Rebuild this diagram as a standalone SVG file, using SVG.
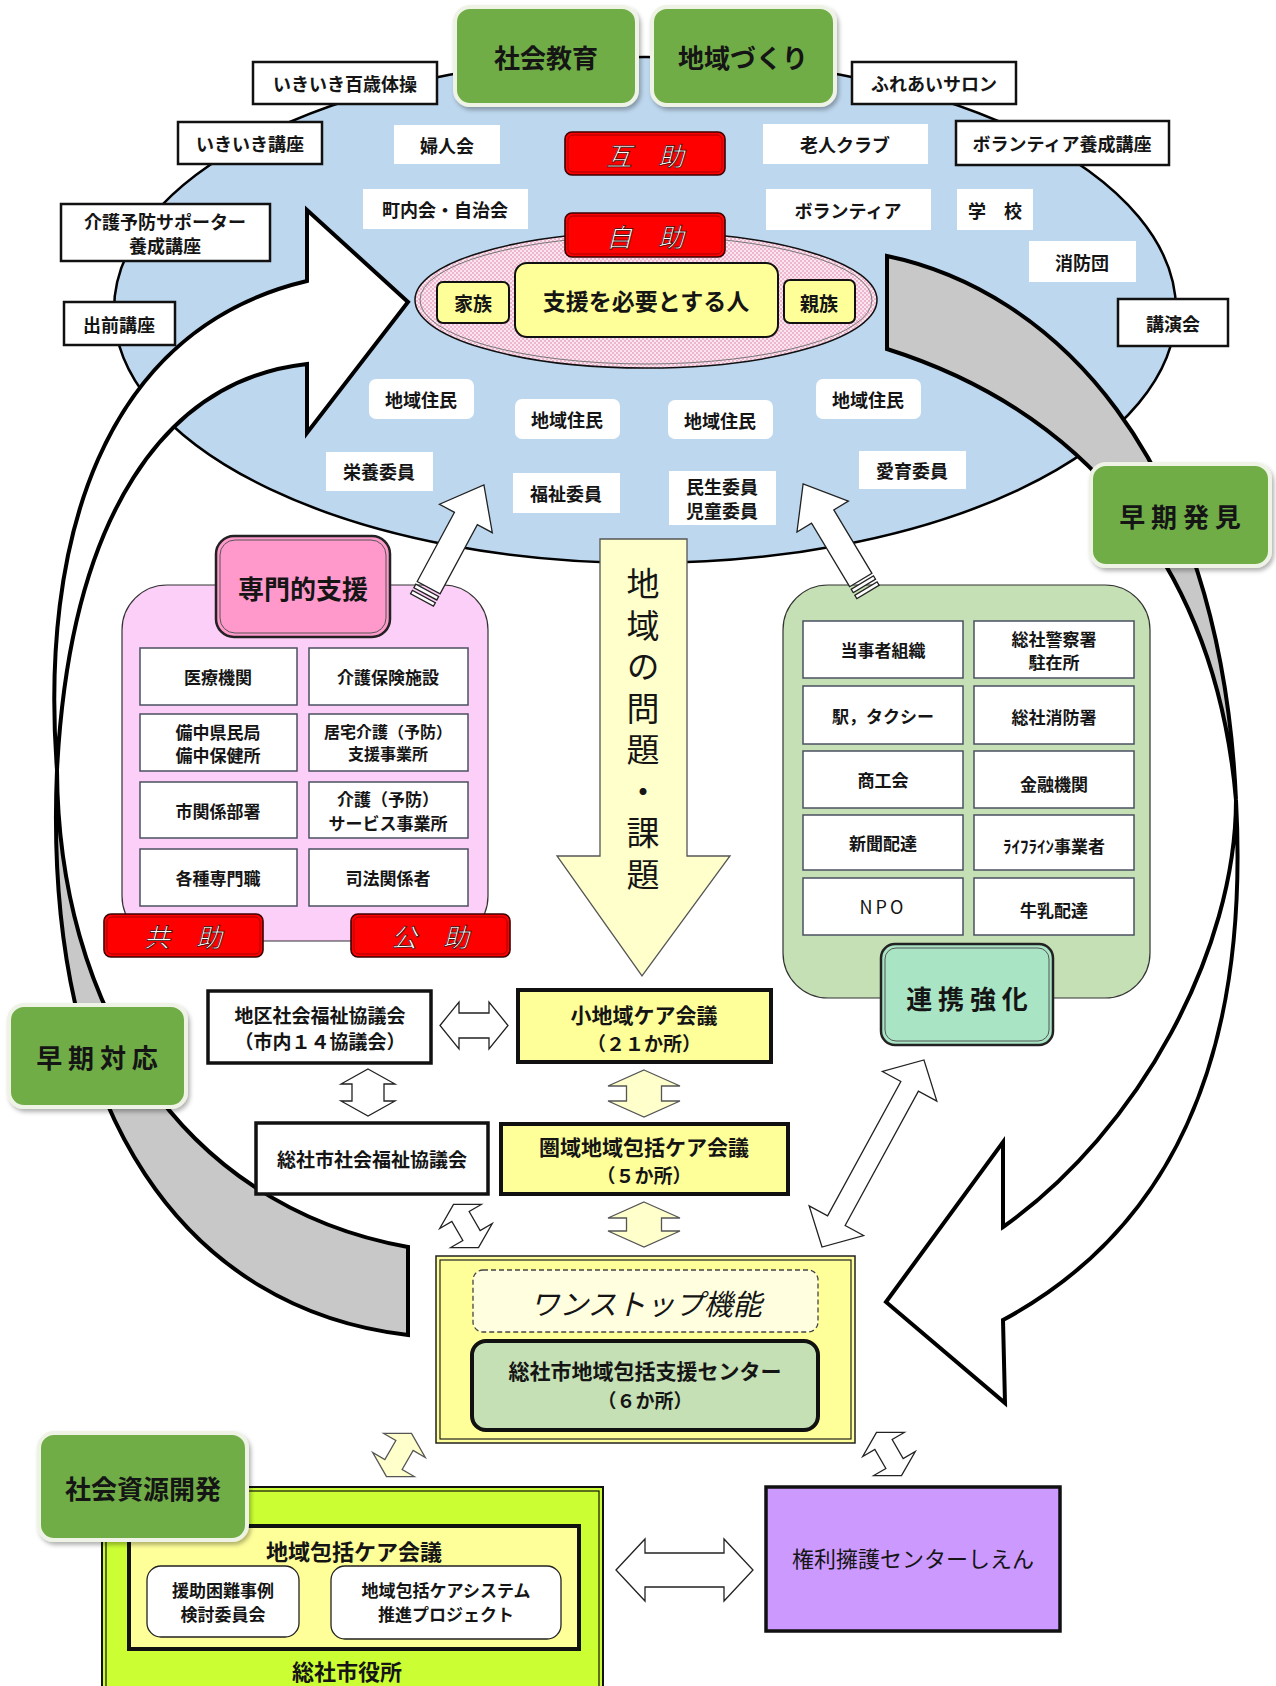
<svg xmlns="http://www.w3.org/2000/svg" width="1276" height="1686" viewBox="0 0 1276 1686">
<style>
.t{font-family:"Noto Sans CJK JP","Noto Sans CJK SC",sans-serif;font-weight:bold;fill:#151515;text-anchor:middle;dominant-baseline:central}
.n{font-weight:normal}
.s16{font-size:16px}.s17{font-size:17px}.s18{font-size:18px}.s19{font-size:19px}.s20{font-size:20px}.s21{font-size:21px}.s22{font-size:22px}.s23{font-size:23px}.s26{font-size:26px}
.wb{fill:#fff;stroke:#111;stroke-width:2.5}
.wl{fill:#fff}
.cell{fill:#fff;stroke:#4a5060;stroke-width:1.5}
.grn{fill:#70AD47;stroke:#EEF3E6;stroke-width:4;filter:url(#sh)}
.red{fill:#FF0000;stroke:#3a0000;stroke-width:1.6}
.redi{fill:none;stroke:#8a0000;stroke-width:0.8}
.rt{font-family:"Noto Sans CJK JP",sans-serif;font-size:26px;font-style:italic;fill:#fff;stroke:#300;stroke-width:0.7;text-anchor:middle;dominant-baseline:central}
.yb{fill:#FFFF99;stroke:#111;stroke-width:2}
.arc{stroke:#000;stroke-width:4;stroke-linejoin:miter}
.wa{fill:#fff;stroke:#222;stroke-width:1.3}
.ya{fill:#FFFFCC;stroke:#555;stroke-width:1.3}
</style>
<defs>
<filter id="sh" x="-10%" y="-10%" width="125%" height="130%"><feDropShadow dx="2" dy="3" stdDeviation="2" flood-color="#000" flood-opacity="0.3"/></filter>
<pattern id="pk" width="4" height="4" patternUnits="userSpaceOnUse"><rect width="4" height="4" fill="#FBE6EF"/><rect width="2" height="2" fill="#EDB6CE"/><rect x="2" y="2" width="2" height="2" fill="#EDB6CE"/></pattern>
</defs>

<g id="community-ellipse"><ellipse cx="645" cy="310" rx="531" ry="253" fill="#BDD7EE" stroke="#000" stroke-width="2.5"/></g>

<g id="outer-labels">
<rect class="wb" x="253" y="62" width="184" height="42"/><text class="t s18" x="345" y="83">いきいき百歳体操</text>
<rect class="wb" x="178" y="122" width="144" height="42"/><text class="t s18" x="250" y="143">いきいき講座</text>
<rect class="wb" x="61" y="204" width="209" height="57"/><text class="t s18" x="165" y="221">介護予防サポーター</text><text class="t s18" x="165" y="245">養成講座</text>
<rect class="wb" x="64" y="302" width="111" height="43"/><text class="t s18" x="119" y="324">出前講座</text>
<rect class="wb" x="852" y="62" width="164" height="42"/><text class="t s18" x="934" y="83">ふれあいサロン</text>
<rect class="wb" x="956" y="121" width="213" height="44"/><text class="t s18" x="1062" y="143">ボランティア養成講座</text>
<rect class="wb" x="1118" y="299" width="110" height="47"/><text class="t s18" x="1173" y="323">講演会</text>
</g>

<g id="inner-labels">
<rect class="wl" x="394" y="125" width="106" height="39"/><text class="t s18" x="447" y="145">婦人会</text>
<rect class="wl" x="363" y="189" width="165" height="40"/><text class="t s18" x="445" y="209">町内会・自治会</text>
<rect class="wl" x="763" y="124" width="165" height="40"/><text class="t s18" x="845" y="144">老人クラブ</text>
<rect class="wl" x="766" y="189" width="165" height="41"/><text class="t s18" x="848" y="210">ボランティア</text>
<rect class="wl" x="957" y="189" width="76" height="41"/><text class="t s18" x="995" y="210">学　校</text>
<rect class="wl" x="1029" y="241" width="107" height="41"/><text class="t s18" x="1082" y="262">消防団</text>
<rect class="wl" x="369" y="379" width="105" height="40" rx="7"/><text class="t s18" x="421" y="399">地域住民</text>
<rect class="wl" x="515" y="399" width="105" height="40" rx="7"/><text class="t s18" x="567" y="419">地域住民</text>
<rect class="wl" x="668" y="400" width="105" height="39" rx="7"/><text class="t s18" x="720" y="420">地域住民</text>
<rect class="wl" x="816" y="379" width="105" height="40" rx="7"/><text class="t s18" x="868" y="399">地域住民</text>
<rect class="wl" x="326" y="452" width="107" height="39"/><text class="t s18" x="379" y="471">栄養委員</text>
<rect class="wl" x="513" y="473" width="107" height="40"/><text class="t s18" x="566" y="493">福祉委員</text>
<rect class="wl" x="669" y="471" width="107" height="54"/><text class="t s18" x="722" y="486">民生委員</text><text class="t s18" x="722" y="510">児童委員</text>
<rect class="wl" x="859" y="451" width="107" height="38"/><text class="t s18" x="912" y="470">愛育委員</text>
</g>

<g id="mutual-help">
<rect class="red" x="565" y="132" width="160" height="43" rx="7"/><rect class="redi" x="568" y="135" width="154" height="37" rx="5"/><text class="rt" x="645" y="154">互　助</text>
</g>

<g id="self-help-circle">
<ellipse cx="646" cy="300" rx="231" ry="68" fill="url(#pk)" stroke="#111" stroke-width="1.5"/>
<ellipse cx="646" cy="300" rx="226" ry="64" fill="none" stroke="#777" stroke-width="1"/>
<rect class="red" x="565" y="213" width="160" height="44" rx="7"/><rect class="redi" x="568" y="216" width="154" height="38" rx="5"/><text class="rt" x="645" y="235">自　助</text>
<rect class="yb" x="437" y="282" width="72" height="41" rx="6"/><text class="t s19" x="473" y="302">家族</text>
<rect class="yb" x="515" y="263" width="263" height="74" rx="12"/><text class="t s23" x="646" y="300">支援を必要とする人</text>
<rect class="yb" x="784" y="280" width="71" height="43" rx="6"/><text class="t s19" x="819" y="302">親族</text>
</g>

<g id="specialist-support">
<rect x="122" y="585" width="366" height="356" rx="45" fill="#FCCFF8" stroke="#333" stroke-width="1.2"/>
<rect class="cell" x="140" y="648" width="157" height="57"/><text class="t s17" x="218" y="676">医療機関</text>
<rect class="cell" x="309" y="648" width="159" height="57"/><text class="t s17" x="388" y="676">介護保険施設</text>
<rect class="cell" x="140" y="714" width="157" height="57"/><text class="t s17" x="218" y="731">備中県民局</text><text class="t s17" x="218" y="754">備中保健所</text>
<rect class="cell" x="309" y="714" width="159" height="57"/><text class="t s16" x="388" y="731">居宅介護（予防）</text><text class="t s16" x="388" y="753">支援事業所</text>
<rect class="cell" x="140" y="782" width="157" height="56"/><text class="t s17" x="218" y="810">市関係部署</text>
<rect class="cell" x="309" y="782" width="159" height="56"/><text class="t s17" x="388" y="798">介護（予防）</text><text class="t s17" x="388" y="822">サービス事業所</text>
<rect class="cell" x="140" y="849" width="157" height="57"/><text class="t s17" x="218" y="877">各種専門職</text>
<rect class="cell" x="309" y="849" width="159" height="57"/><text class="t s17" x="388" y="877">司法関係者</text>
<rect x="216" y="536" width="174" height="101" rx="18" fill="#FF99CC" stroke="#222" stroke-width="2.5"/>
<rect x="220" y="540" width="166" height="93" rx="15" fill="none" stroke="#555" stroke-width="1"/>
<text class="t s26" x="303" y="587">専門的支援</text>
<rect class="red" x="104" y="914" width="159" height="43" rx="7"/><rect class="redi" x="107" y="917" width="153" height="37" rx="5"/><text class="rt" x="183" y="935">共　助</text>
<rect class="red" x="351" y="914" width="159" height="43" rx="7"/><rect class="redi" x="354" y="917" width="153" height="37" rx="5"/><text class="rt" x="430" y="935">公　助</text>
</g>

<g id="cooperation">
<rect x="783" y="585" width="367" height="413" rx="45" fill="#C5E0B4" stroke="#333" stroke-width="1.2"/>
<rect class="cell" x="803" y="621" width="160" height="57"/><text class="t s17" x="883" y="649">当事者組織</text>
<rect class="cell" x="974" y="621" width="160" height="57"/><text class="t s17" x="1054" y="638">総社警察署</text><text class="t s17" x="1054" y="661">駐在所</text>
<rect class="cell" x="803" y="686" width="160" height="58"/><text class="t s17" x="883" y="715">駅，タクシー</text>
<rect class="cell" x="974" y="686" width="160" height="58"/><text class="t s17" x="1054" y="716">総社消防署</text>
<rect class="cell" x="803" y="751" width="160" height="57"/><text class="t s17" x="883" y="779">商工会</text>
<rect class="cell" x="974" y="751" width="160" height="57"/><text class="t s17" x="1054" y="783">金融機関</text>
<rect class="cell" x="803" y="815" width="160" height="55"/><text class="t s17" x="883" y="842">新聞配達</text>
<rect class="cell" x="974" y="815" width="160" height="55"/><text class="t s17" x="1054" y="845">ﾗｲﾌﾗｲﾝ事業者</text>
<rect class="cell" x="803" y="878" width="160" height="57"/><text class="t s18 n" x="883" y="906" letter-spacing="3">NPO</text>
<rect class="cell" x="974" y="878" width="160" height="57"/><text class="t s17" x="1054" y="909">牛乳配達</text>
<rect x="881" y="944" width="172" height="101" rx="14" fill="#A9E5C5" stroke="#222" stroke-width="2.5"/>
<rect x="885" y="948" width="164" height="93" rx="11" fill="none" stroke="#555" stroke-width="1"/>
<text class="t s26" x="967" y="997">連 携 強 化</text>
</g>

<g id="connectors">
<path class="arc" fill="#C8C8C8" d="M 57 770 C 58 1000, 175 1205, 408 1247 L 408 1335 C 190 1310, 42 1120, 57 770 Z"/>
<path class="arc" fill="#FFFFFF" d="M 57 770 C 40 545, 100 330, 307 281 L 307 210 L 408 302 L 307 433 L 307 364 C 165 380, 70 515, 57 770 Z"/>
<path class="arc" fill="#C8C8C8" d="M 887 256 C 1050 290, 1220 450, 1236 800 C 1215 560, 1080 410, 887 349 Z"/>
<path class="arc" fill="#FFFFFF" d="M 1236 800 C 1236 950, 1140 1130, 1003 1227 L 1003 1142 L 886 1302 L 1005 1403 L 1003 1320 C 1170 1230, 1250 1060, 1236 800 Z"/>
<polygon points="600,539 687,539 687,856 730,856 642,976 557,856 600,856" fill="#FFFFCC" stroke="#555" stroke-width="1.3"/>
<g transform="translate(422,600) rotate(-61.7)">
<rect class="wa" x="0" y="-13" width="4" height="26"/><rect class="wa" x="7" y="-13" width="4" height="26"/>
<polygon class="wa" points="14,-13 92.6,-13 92.6,-30 130.6,0 92.6,30 92.6,13 14,13"/>
</g>
<g transform="translate(868,592) rotate(-121)">
<rect class="wa" x="0" y="-13" width="4" height="26"/><rect class="wa" x="7" y="-13" width="4" height="26"/>
<polygon class="wa" points="14,-13 88,-13 88,-30 126,0 88,30 88,13 14,13"/>
</g>
<polygon class="wa" points="440,1025.5 459,1002 459,1013 489,1013 489,1002 508,1025.5 489,1049 489,1038 459,1038 459,1049"/>
<polygon class="wa" points="368,1069 395,1084 384,1084 384,1101 395,1101 368,1116 341,1101 352,1101 352,1084 341,1084"/>
<polygon class="ya" points="644,1070 680,1086 661.5,1086 661.5,1101 680,1101 644,1117 608,1101 626.5,1101 626.5,1086 608,1086"/>
<polygon class="ya" points="644,1202 680,1218 661.5,1218 661.5,1231 680,1231 644,1247 608,1231 626.5,1231 626.5,1218 608,1218"/>
<polygon class="wa" transform="translate(466,1226) rotate(60)" points="-25,0 -11,-24 -11,-10 11,-10 11,-24 25,0 11,24 11,10 -11,10 -11,24"/>
<polygon class="wa" transform="translate(873,1153.5) rotate(-61.4)" points="-106.5,0 -76.5,-31 -76.5,-10 76.5,-10 76.5,-31 106.5,0 76.5,31 76.5,10 -76.5,10 -76.5,31"/>
<polygon class="ya" transform="translate(399,1455) rotate(-60)" points="-25,0 -11,-24 -11,-10 11,-10 11,-24 25,0 11,24 11,10 -11,10 -11,24"/>
<polygon class="wa" transform="translate(889,1454) rotate(60)" points="-25,0 -11,-24 -11,-10 11,-10 11,-24 25,0 11,24 11,10 -11,10 -11,24"/>
<polygon class="wa" points="616,1570 645,1539 645,1553 724,1553 724,1539 753,1570 724,1601 724,1587 645,1587 645,1601"/>
</g>

<g id="issue-label">
<text x="643" y="567" writing-mode="vertical-rl" style="font-family:'Noto Sans CJK JP','Noto Sans CJK SC',sans-serif;font-size:33px;letter-spacing:8.5px;fill:#151515">地域の問題・課題</text>
</g>

<g id="social-education"><rect class="grn" x="455" y="7" width="182" height="98" rx="15"/><text class="t s26" x="546" y="56">社会教育</text></g>
<g id="community-building"><rect class="grn" x="652" y="7" width="183" height="98" rx="15"/><text class="t s26" x="743" y="56">地域づくり</text></g>
<g id="early-detection"><rect class="grn" x="1091" y="464" width="179" height="102" rx="15"/><text class="t s26" x="1180" y="515">早 期 発 見</text></g>
<g id="early-response"><rect class="grn" x="9" y="1005" width="177" height="102" rx="15"/><text class="t s26" x="97" y="1056">早 期 対 応</text></g>

<g id="district-council"><rect x="208" y="991" width="223" height="72" fill="#fff" stroke="#111" stroke-width="3.5"/><text class="t s19" x="320" y="1014">地区社会福祉協議会</text><text class="t s19" x="320" y="1040">（市内１４協議会）</text></g>
<g id="small-area-meeting"><rect x="518" y="990" width="253" height="72" fill="#FFFF99" stroke="#111" stroke-width="4"/><text class="t s21" x="644" y="1014">小地域ケア会議</text><text class="t s19" x="644" y="1042">（２１か所）</text></g>
<g id="city-council"><rect x="256" y="1123" width="232" height="71" fill="#fff" stroke="#111" stroke-width="3.5"/><text class="t s19" x="372" y="1158">総社市社会福祉協議会</text></g>
<g id="area-meeting"><rect x="501" y="1124" width="287" height="70" fill="#FFFF99" stroke="#111" stroke-width="4"/><text class="t s21" x="644" y="1146">圏域地域包括ケア会議</text><text class="t s19" x="644" y="1174">（５か所）</text></g>

<g id="one-stop">
<rect x="436" y="1256" width="419" height="187" fill="#FFFF99" stroke="#222" stroke-width="1.5"/>
<rect x="440" y="1260" width="411" height="179" fill="none" stroke="#222" stroke-width="1.2"/>
<rect x="473" y="1270" width="345" height="62" rx="10" fill="#FFFFE0" stroke="#444" stroke-width="1.3" stroke-dasharray="5,3"/>
<text class="t n" x="646" y="1302" style="font-size:29px;font-style:italic">ワンストップ機能</text>
<rect x="472" y="1341" width="346" height="89" rx="14" fill="#C5E0B4" stroke="#111" stroke-width="4"/>
<text class="t s21" x="645" y="1370">総社市地域包括支援センター</text>
<text class="t s19" x="645" y="1399">（６か所）</text>
</g>

<g id="city-hall">
<rect x="102" y="1487" width="501" height="215" fill="#CCFF33" stroke="#111" stroke-width="2"/>
<rect x="106" y="1491" width="493" height="215" fill="none" stroke="#111" stroke-width="1.2"/>
<rect x="129" y="1526" width="450" height="123" fill="#FFFF99" stroke="#111" stroke-width="4"/>
<text class="t s22" x="354" y="1550">地域包括ケア会議</text>
<rect x="147" y="1566" width="152" height="71" rx="14" fill="#fff" stroke="#222" stroke-width="1.3"/>
<text class="t s17" x="223" y="1589">援助困難事例</text><text class="t s17" x="223" y="1613">検討委員会</text>
<rect x="331" y="1566" width="230" height="73" rx="14" fill="#fff" stroke="#222" stroke-width="1.3"/>
<text class="t s17" x="446" y="1589">地域包括ケアシステム</text><text class="t s17" x="446" y="1613">推進プロジェクト</text>
<text class="t s22" x="347" y="1670">総社市役所</text>
</g>

<g id="resource-development"><rect class="grn" x="39" y="1433" width="208" height="107" rx="15"/><text class="t s26" x="143" y="1487">社会資源開発</text></g>

<g id="advocacy-center"><rect x="766" y="1487" width="294" height="144" fill="#CC99FF" stroke="#111" stroke-width="3.5"/><text class="t s22 n" x="913" y="1557">権利擁護センターしえん</text></g>
</svg>
